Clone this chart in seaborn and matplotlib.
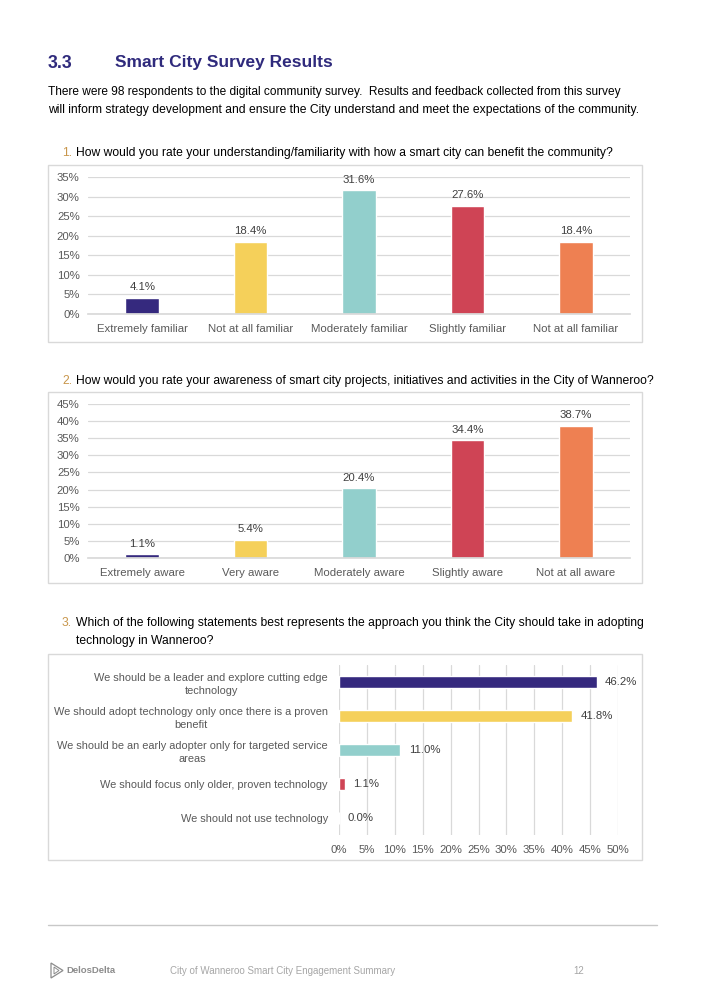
import matplotlib
matplotlib.use("Agg")
import matplotlib.pyplot as plt
import seaborn as sns
import pandas as pd
from matplotlib.patches import Rectangle, Polygon
from matplotlib.lines import Line2D

# ---------------- data ----------------
q1_labels = ["Extremely familiar", "Not at all familiar", "Moderately familiar",
             "Slightly familiar", "Not at all familiar"]
q1_values = [4.1, 18.4, 31.6, 27.6, 18.4]

q2_labels = ["Extremely aware", "Very aware", "Moderately aware",
             "Slightly aware", "Not at all aware"]
q2_values = [1.1, 5.4, 20.4, 34.4, 38.7]

q3_labels = ["We should be a leader and explore cutting edge\ntechnology",
             "We should adopt technology only once there is a proven\nbenefit",
             "We should be an early adopter only for targeted service\nareas",
             "We should focus only older, proven technology",
             "We should not use technology"]
q3_values = [46.2, 41.8, 11.0, 1.1, 0.0]

q1_ticks = [0, 5, 10, 15, 20, 25, 30, 35]
q2_ticks = [0, 5, 10, 15, 20, 25, 30, 35, 40, 45]
q3_ticks = [0, 5, 10, 15, 20, 25, 30, 35, 40, 45, 50]

bar_colors = ["#35297e", "#f5d05a", "#92cfcc", "#cf4455", "#ee8052"]

# ---------------- setup ----------------
sns.set_theme(style="white")
plt.rcParams["font.family"] = ["Liberation Sans", "DejaVu Sans"]

W, H = 705, 1005
fig = plt.figure(figsize=(W / 100, H / 100), dpi=100)
fig.patch.set_facecolor("white")


def fx(x):
    return x / W


def fy(y):
    return 1 - y / H


def add_ax(x0, y0, x1, y1):
    return fig.add_axes([fx(x0), fy(y1), (x1 - x0) / W, (y1 - y0) / H])


def box(x0, y0, x1, y1):
    fig.patches.append(Rectangle((fx(x0), fy(y1)), (x1 - x0) / W, (y1 - y0) / H,
                                 transform=fig.transFigure, fill=False,
                                 edgecolor="#d9d9d9", linewidth=1.0))


TXT = "#000000"
TICK = "#595959"
GRID = "#d9d9d9"
NUMC = "#c8964b"
BODY = 8.7

# ---------------- header texts ----------------
title_col = "#2f2a7c"
fig.text(fx(48), fy(63), "3.3", fontsize=12.8, fontweight="bold", color=title_col, va="center")
fig.text(fx(115), fy(63), "Smart City Survey Results", fontsize=12.5, fontweight="bold",
         color=title_col, va="center")
fig.text(fx(48), fy(92), "There were 98 respondents to the digital community survey.  Results and "
         "feedback collected from this survey", fontsize=8.55, color=TXT, va="center")
fig.text(fx(48), fy(110), "will inform strategy development and ensure the City understand and meet "
         "the expectations of the community.", fontsize=BODY, color=TXT, va="center")

fig.text(fx(62), fy(153), "1.", fontsize=BODY, color=NUMC, va="center")
fig.text(fx(76), fy(153), "How would you rate your understanding/familiarity with how a smart city can "
         "benefit the community?", fontsize=BODY, color=TXT, va="center")
fig.text(fx(62), fy(381), "2.", fontsize=BODY, color=NUMC, va="center")
fig.text(fx(76), fy(381), "How would you rate your awareness of smart city projects, initiatives and "
         "activities in the City of Wanneroo?", fontsize=BODY, color=TXT, va="center")
fig.text(fx(62), fy(623), "3.", fontsize=BODY, color=NUMC, va="center")
fig.text(fx(76), fy(623), "Which of the following statements best represents the approach you think "
         "the City should take in adopting", fontsize=BODY, color=TXT, va="center")
fig.text(fx(76), fy(641), "technology in Wanneroo?", fontsize=BODY, color=TXT, va="center")


# ---------------- vertical bar charts ----------------
def vbar(ax, labels, values, ticks):
    df = pd.DataFrame({"key": list(range(len(values))), "value": values})
    sns.barplot(data=df, x="key", y="value", hue="key", palette=bar_colors,
                legend=False, ax=ax, width=0.31, saturation=1)
    ax.set_ylim(0, ticks[-1])
    ax.set_xlim(-0.5, len(values) - 0.5)
    ax.set_yticks(ticks)
    ax.set_yticklabels([f"{t}%" for t in ticks])
    ax.set_xticks(range(len(labels)))
    ax.set_xticklabels(labels)
    ax.set_xlabel("")
    ax.set_ylabel("")
    ax.yaxis.grid(True, color=GRID, linewidth=0.9)
    ax.set_axisbelow(True)
    for s in ax.spines.values():
        s.set_visible(False)
    ax.spines["bottom"].set_visible(True)
    ax.spines["bottom"].set_color(GRID)
    ax.tick_params(axis="both", length=0, labelsize=8.2, labelcolor=TICK)
    ax.tick_params(axis="y", pad=6)
    ax.tick_params(axis="x", pad=7)
    for c in ax.containers:
        ax.bar_label(c, fmt="%.1f%%", padding=4, fontsize=8.2, color="#404040")
    ax.patch.set_alpha(0)


box(48, 165, 642, 342)
ax1 = add_ax(88, 177, 630, 314)
vbar(ax1, q1_labels, q1_values, q1_ticks)

box(48, 392, 642, 583)
ax2 = add_ax(88, 404, 630, 558)
vbar(ax2, q2_labels, q2_values, q2_ticks)

# ---------------- horizontal bar chart ----------------
box(48, 654, 642, 860)
ax3 = add_ax(339, 665, 618, 835)
df3 = pd.DataFrame({"key": list(range(len(q3_values))), "value": q3_values})
sns.barplot(data=df3, y="key", x="value", hue="key", palette=bar_colors, orient="h",
            legend=False, ax=ax3, width=0.36, saturation=1)
ax3.set_xlim(0, q3_ticks[-1])
ax3.set_ylim(len(q3_values) - 0.5, -0.5)
ax3.set_xticks(q3_ticks)
ax3.set_xticklabels([f"{t}%" for t in q3_ticks])
ax3.set_yticks(range(len(q3_labels)))
ax3.set_yticklabels(q3_labels, ha="right", multialignment="center", linespacing=1.35)
ax3.set_xlabel("")
ax3.set_ylabel("")
ax3.xaxis.grid(True, color=GRID, linewidth=0.9)
ax3.set_axisbelow(True)
for s in ax3.spines.values():
    s.set_visible(False)
ax3.tick_params(axis="x", length=0, labelsize=8.2, labelcolor=TICK, pad=7)
ax3.tick_params(axis="y", length=0, labelsize=7.95, labelcolor=TICK, pad=8)
for c in ax3.containers:
    ax3.bar_label(c, fmt="%.1f%%", padding=6, fontsize=8.2, color="#404040")
ax3.patch.set_alpha(0)

# ---------------- footer ----------------
fig.lines.append(Line2D([fx(48), fx(657)], [fy(925), fy(925)], transform=fig.transFigure,
                        color="#c8c8c8", linewidth=1.0))
fig.patches.append(Polygon([(fx(51), fy(963)), (fx(51), fy(978)), (fx(63), fy(970.5))],
                           closed=True, fill=False, edgecolor="#8c8c8c", linewidth=0.9,
                           transform=fig.transFigure))
fig.patches.append(Polygon([(fx(54), fy(967)), (fx(54), fy(974)), (fx(59), fy(970.5))],
                           closed=True, fill=False, edgecolor="#8c8c8c", linewidth=0.7,
                           transform=fig.transFigure))
fig.text(fx(66), fy(970.5), "DelosDelta", fontsize=6.8, fontweight="bold", color="#8c8c8c",
         va="center")
fig.text(fx(170), fy(970.5), "City of Wanneroo Smart City Engagement Summary", fontsize=7.0,
         color="#a6a6a6", va="center")
fig.text(fx(573), fy(970.5), "12", fontsize=7.0, color="#a6a6a6", va="center")

fig.savefig("out.png", dpi=100, facecolor="white")
